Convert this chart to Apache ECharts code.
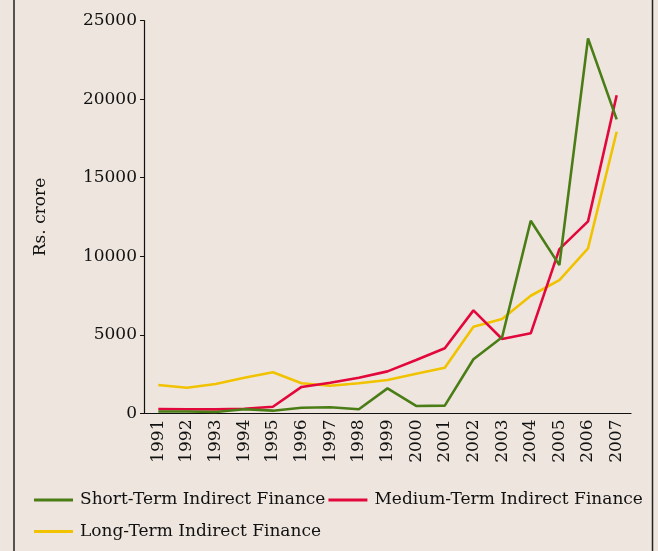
<!DOCTYPE html>
<html>
<head>
<meta charset="utf-8">
<script src="https://cdn.jsdelivr.net/npm/echarts@6/dist/echarts.min.js"></script>
<style>
html,body{margin:0;padding:0;background:#eee6de;}
#chart{width:658px;height:551px;}
</style>
</head>
<body>
<div id="chart"></div>
<script>
var years = ['1991','1992','1993','1994','1995','1996','1997','1998','1999','2000','2001','2002','2003','2004','2005','2006','2007'];
var shortTerm = [130, 130, 100, 270, 180, 370, 400, 270, 1600, 480, 500, 3450, 4850, 12260, 9440, 23860, 18710];
var mediumTerm = [290, 270, 260, 300, 430, 1690, 1960, 2280, 2680, 3400, 4150, 6560, 4740, 5100, 10460, 12220, 20250];
var longTerm = [1810, 1640, 1880, 2280, 2620, 1920, 1770, 1920, 2130, 2530, 2910, 5520, 6010, 7490, 8490, 10510, 17920];
var yTicks = [0, 5000, 10000, 15000, 20000, 25000];

var FONT = 'DejaVu Serif';
var chart = echarts.init(document.getElementById('chart'));
chart.setOption({
  backgroundColor: '#eee6de',
  animation: false,
  grid: {left: 144, right: 27, top: 20.5, bottom: 137.5, containLabel: false},
  xAxis: {
    type: 'category',
    data: years,
    boundaryGap: true,
    axisLine: {lineStyle: {color: '#111', width: 1.2}},
    axisTick: {length: 5, lineStyle: {color: '#111'}},
    axisLabel: {rotate: 90, margin: 6, color: '#111', fontFamily: FONT, fontSize: 17, interval: 0},
    splitLine: {show: false}
  },
  yAxis: {
    type: 'value',
    min: yTicks[0],
    max: yTicks[yTicks.length - 1],
    interval: yTicks[1] - yTicks[0],
    name: 'Rs. crore',
    nameLocation: 'middle',
    nameGap: 95,
    nameTextStyle: {color: '#111', fontFamily: FONT, fontSize: 17},
    axisLine: {show: true, lineStyle: {color: '#111', width: 1.2}},
    axisTick: {show: true, length: 4, lineStyle: {color: '#111'}},
    axisLabel: {margin: 7, color: '#111', fontFamily: FONT, fontSize: 17, formatter: function (v) { return String(v); }},
    splitLine: {show: false}
  },
  legend: [
    {
      data: ['Short-Term Indirect Finance', 'Medium-Term Indirect Finance'],
      left: 34, top: 491.5, padding: 0, itemWidth: 39, itemHeight: 3, itemGap: 3,
      icon: 'rect',
      textStyle: {color: '#111', fontFamily: FONT, fontSize: 17, padding: [0, 0, 0, 2]}
    },
    {
      data: ['Long-Term Indirect Finance'],
      left: 34, top: 523, padding: 0, itemWidth: 39, itemHeight: 3, itemGap: 3,
      icon: 'rect',
      textStyle: {color: '#111', fontFamily: FONT, fontSize: 17, padding: [0, 0, 0, 2]}
    }
  ],
  graphic: [
    {type: 'line', shape: {x1: 14, y1: 0, x2: 14, y2: 551}, style: {stroke: '#222', lineWidth: 1.5}},
    {type: 'line', shape: {x1: 652.5, y1: 0, x2: 652.5, y2: 551}, style: {stroke: '#222', lineWidth: 1.5}}
  ],
  series: [
    {name: 'Short-Term Indirect Finance', type: 'line', data: shortTerm, symbol: 'none', color: '#4b7d17', lineStyle: {width: 2.6, color: '#4b7d17'}, z: 3},
    {name: 'Medium-Term Indirect Finance', type: 'line', data: mediumTerm, symbol: 'none', color: '#e2083c', lineStyle: {width: 2.6, color: '#e2083c'}, z: 2},
    {name: 'Long-Term Indirect Finance', type: 'line', data: longTerm, symbol: 'none', color: '#f1c200', lineStyle: {width: 2.6, color: '#f1c200'}, z: 1}
  ]
});
</script>
</body>
</html>
